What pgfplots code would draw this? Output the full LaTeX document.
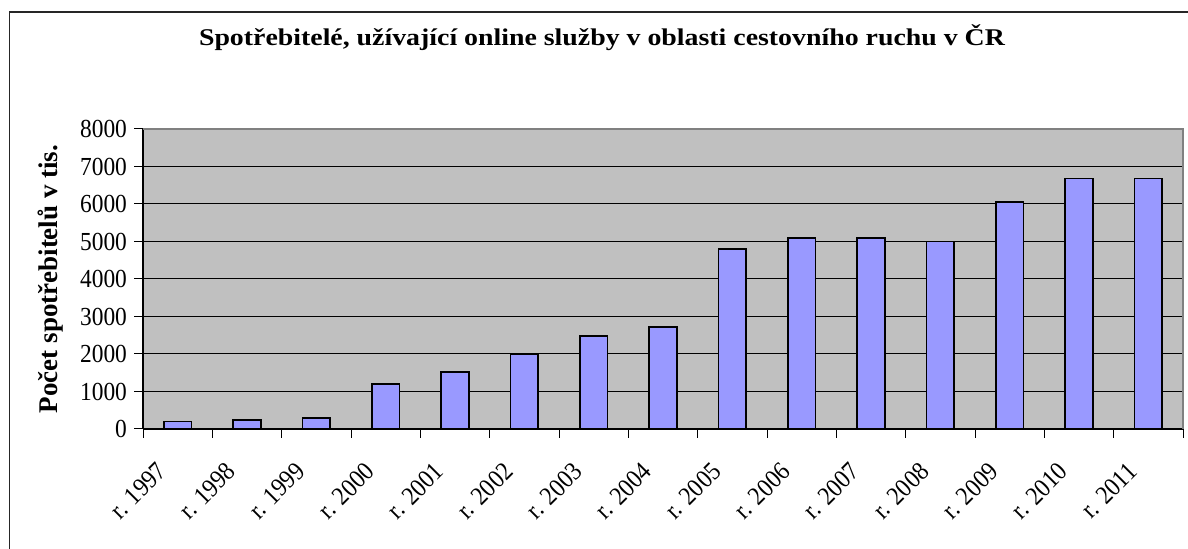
\documentclass[border=0pt]{standalone}
\usepackage{fontspec}
\setmainfont{Liberation Serif}
\newfontfamily\tickfont[FakeStretch=0.9]{Liberation Serif}
\newfontfamily\titlefont[FakeStretch=1.16]{Liberation Serif}
\usepackage{pgfplots}
\pgfplotsset{compat=1.18}
\definecolor{barblue}{HTML}{9999FF}
\definecolor{plotgray}{HTML}{C0C0C0}
\definecolor{framegray}{HTML}{808080}
\begin{document}
\begin{tikzpicture}
\useasboundingbox (0,0) rectangle (594pt,274.5pt);
\draw[line width=0.8pt, black!85] (4.75pt,-2pt) -- (4.75pt,268.5pt) -- (600pt,268.5pt);
\begin{axis}[
  at={(71.5pt,60pt)}, anchor=south west,
  scale only axis, width=520pt, height=150pt,
  xmin=-0.5, xmax=14.5, ymin=0, ymax=8000,
  axis background/.style={fill=plotgray},
  axis x line*=bottom, axis y line*=left,
  axis line style={black, line width=0.7pt},
  ytick={0,1000,...,8000},
  scaled y ticks=false,
  /pgf/number format/1000 sep={},
  /pgf/number format/assume math mode=true,
  yticklabel style={font=\tickfont\fontsize{13}{15}\selectfont},
  ymajorgrids, grid style={black, line width=0.5pt},
  tick align=outside, major tick length=4.5pt,
  tick style={black, line width=0.5pt},
  xtick={-0.5,0.5,...,14.5},
  xticklabels={},
  extra x ticks={0,1,...,14},
  extra x tick labels={r. 1997,r. 1998,r. 1999,r. 2000,r. 2001,r. 2002,r. 2003,r. 2004,r. 2005,r. 2006,r. 2007,r. 2008,r. 2009,r. 2010,r. 2011},
  extra x tick style={major tick length=0pt, grid=none},
  xticklabel style={font=\tickfont\fontsize{13}{15}\selectfont, xshift=-11pt, yshift=-11pt, rotate=45, anchor=north east},
  ylabel={Počet spotřebitelů v tis.},
  ylabel style={font=\fontsize{13.5}{15}\selectfont\bfseries, at={(axis description cs:-0.0885,0.5)}, anchor=center},
  title={Spotřebitelé, užívající online služby v oblasti cestovního ruchu v ČR},
  title style={font=\titlefont\fontsize{12}{14}\selectfont\bfseries, at={(axis description cs:0.4413,1.2633)}, anchor=center},
  ybar, bar width=0.4,
  clip=false,
]
\addplot[fill=barblue, draw=black, line width=0.8pt] coordinates {
  (0,200) (1,240) (2,290) (3,1200) (4,1520) (5,2000) (6,2480) (7,2720)
  (8,4800) (9,5100) (10,5100) (11,5000) (12,6050) (13,6680) (14,6680)
};
\draw[framegray, line width=1pt] (rel axis cs:0,1) -- (rel axis cs:1,1) -- (rel axis cs:1,0);
\end{axis}
\end{tikzpicture}
\end{document}
